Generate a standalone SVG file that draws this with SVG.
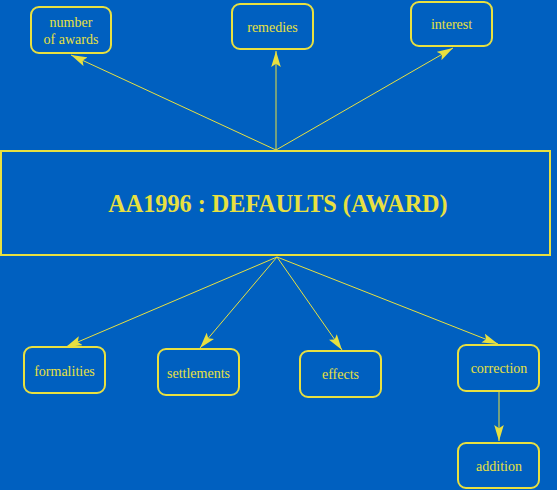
<svg xmlns="http://www.w3.org/2000/svg" width="557" height="490" viewBox="0 0 557 490">
<defs>
<style>
.bg{fill:#0060c0}
.node rect{fill:none;stroke:#e8e040;stroke-width:2}
.lbl{font-family:"Liberation Serif","Times New Roman",serif;font-size:14px;fill:#e8e040;text-anchor:middle}
.title{font-family:"Liberation Serif","Times New Roman",serif;font-size:24.2px;font-weight:bold;fill:#e8e040;text-anchor:middle}
.edge{stroke:#e8e040;stroke-width:1;fill:none;marker-end:url(#arr)}
</style>
<marker id="arr" markerUnits="userSpaceOnUse" markerWidth="16" markerHeight="10" viewBox="0 0 15 9" refX="15" refY="4.5" orient="auto">
<path d="M0,0 L15,4.5 L0,9 L3,4.5 z" fill="#e8e040"/>
</marker>
</defs>
<rect class="bg" x="0" y="0" width="557" height="490"/>
<g id="connectors">
<line class="edge" x1="276" y1="150" x2="71" y2="55"/>
<line class="edge" x1="276" y1="150" x2="276" y2="51"/>
<line class="edge" x1="276" y1="150" x2="453" y2="48"/>
<line class="edge" x1="277" y1="257" x2="66" y2="347"/>
<line class="edge" x1="277" y1="257" x2="200" y2="348"/>
<line class="edge" x1="277" y1="257" x2="342" y2="350"/>
<line class="edge" x1="277" y1="257" x2="498" y2="344"/>
<line class="edge" x1="499" y1="391" x2="499" y2="441"/>
</g>
<g id="main" class="node">
<rect x="1" y="151" width="549" height="104"/>
<text class="title" x="278" y="212">AA1996 : DEFAULTS (AWARD)</text>
</g>
<g id="number-of-awards" class="node">
<rect x="31" y="7" width="80" height="46" rx="8"/>
<text class="lbl" x="71" y="27">number</text>
<text class="lbl" x="71" y="44">of awards</text>
</g>
<g id="remedies" class="node">
<rect x="232" y="4" width="81" height="45" rx="8"/>
<text class="lbl" x="272.5" y="32">remedies</text>
</g>
<g id="interest" class="node">
<rect x="411" y="2" width="81" height="44" rx="8"/>
<text class="lbl" x="451.5" y="29">interest</text>
</g>
<g id="formalities" class="node">
<rect x="24" y="347" width="81" height="46" rx="8"/>
<text class="lbl" x="64.5" y="376">formalities</text>
</g>
<g id="settlements" class="node">
<rect x="158" y="349" width="81" height="46" rx="8"/>
<text class="lbl" x="198.5" y="378">settlements</text>
</g>
<g id="effects" class="node">
<rect x="300" y="351" width="81" height="46" rx="8"/>
<text class="lbl" x="340.5" y="379">effects</text>
</g>
<g id="correction" class="node">
<rect x="458" y="345" width="81" height="46" rx="8"/>
<text class="lbl" x="499" y="373">correction</text>
</g>
<g id="addition" class="node">
<rect x="458" y="443" width="81" height="45" rx="8"/>
<text class="lbl" x="499" y="471">addition</text>
</g>
</svg>
